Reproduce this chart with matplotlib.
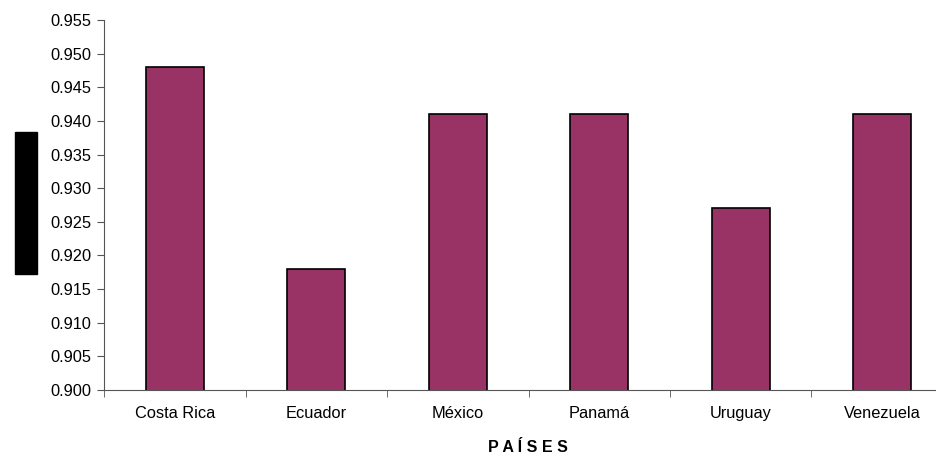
import matplotlib
matplotlib.use("Agg")
import matplotlib.pyplot as plt
from matplotlib.patches import Rectangle
import numpy as np

plt.rcParams['font.family'] = ['Liberation Sans', 'DejaVu Sans']

paises = ["Costa Rica", "Ecuador", "México", "Panamá", "Uruguay", "Venezuela"]
valores = [0.948, 0.918, 0.941, 0.941, 0.927, 0.941]

fig = plt.figure(figsize=(9.36, 4.55), dpi=100)
# the plot area runs past the right edge of the picture, as in the original
ax = fig.add_axes([104 / 936, 65 / 455, 849 / 936, 370 / 455])

x = np.arange(len(paises))
ax.bar(x, valores, width=0.41, color="#993366", edgecolor="black", linewidth=1.2)

ax.set_xlim(-0.5, len(paises) - 0.5)
ax.set_ylim(0.900, 0.955)
ax.set_yticks(np.arange(0.900, 0.9551, 0.005))
ax.set_yticklabels([f"{v:.3f}" for v in np.arange(0.900, 0.9551, 0.005)], fontsize=11.8)

ax.set_xticks(x)
ax.set_xticklabels(paises, fontsize=11.8, va="baseline")
ax.tick_params(axis="x", which="major", length=0, pad=20)
ax.set_xticks(np.arange(-0.5, len(paises), 1.0), minor=True)
ax.tick_params(axis="x", which="minor", length=5, direction="out", color="#555555")
ax.tick_params(axis="y", length=5, direction="out", color="#555555", pad=4)

for side in ["top", "right"]:
    ax.spines[side].set_visible(False)
ax.spines["left"].set_color("#555555")
ax.spines["bottom"].set_color("#555555")

fig.text(528 / 936, 1 - 447 / 455, "P A Í S E S", ha="center", va="center",
         fontsize=11.5, fontweight="bold")

# blacked-out y-axis title
fig.patches.append(Rectangle((15 / 936, 1 - 274 / 455), 22 / 936, 142 / 455,
                             transform=fig.transFigure, color="black"))

fig.savefig("out.png", dpi=100)
